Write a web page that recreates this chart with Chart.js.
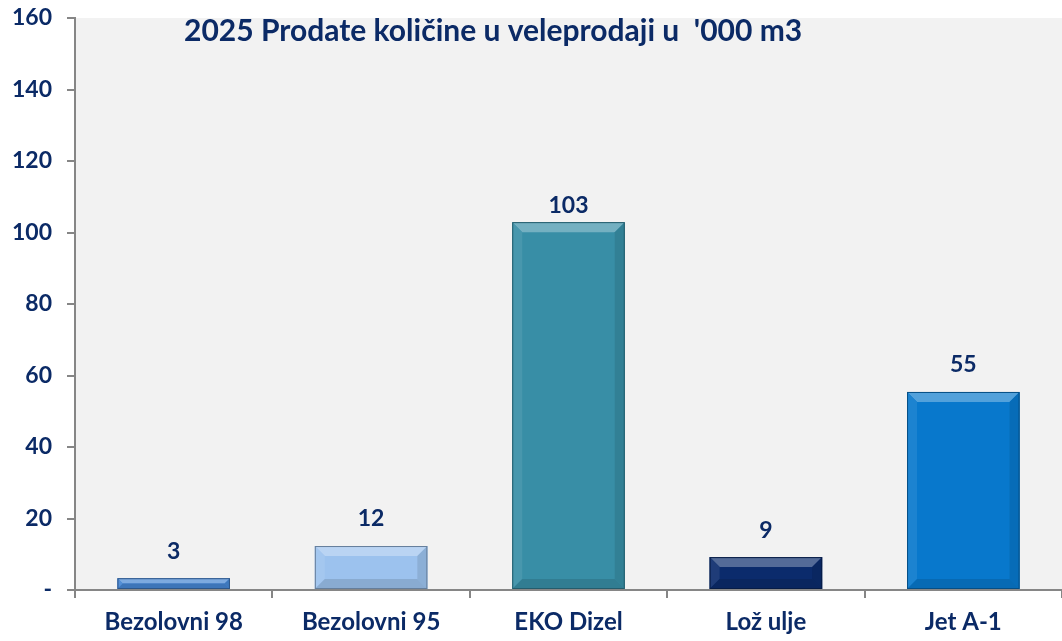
<!DOCTYPE html>
<html><head><meta charset="utf-8">
<script src="https://cdn.jsdelivr.net/npm/chart.js@4/dist/chart.umd.min.js"></script>
<style>html,body{margin:0;padding:0;background:#fff}#wrap{width:1062px;height:641px}</style>
</head><body><div id="wrap"><canvas id="c"></canvas></div>
<script>
const title = "2025 Prodate količine u veleprodaji u  '000 m3";
const categories = ["Bezolovni 98", "Bezolovni 95", "EKO Dizel", "Lož ulje", "Jet A-1"];
const values = [3.3, 12.3, 102.9, 9.2, 55.4];
const barColors = ["#4585d2", "#9cc2ee", "#388ea6", "#0b2b6c", "#0878cc"];
const yTicks = [0, 20, 40, 60, 80, 100, 120, 140, 160];

const navy = "#0b2a66";
const FONT = "Lato, 'Open Sans', sans-serif";

function shade(hex, amt) {
  const n = parseInt(hex.slice(1), 16);
  let r = n >> 16, g = (n >> 8) & 255, b = n & 255;
  const f = c => amt >= 0 ? Math.round(c + (255 - c) * amt) : Math.round(c * (1 + amt));
  return `rgb(${f(r)},${f(g)},${f(b)})`;
}

const bgPlugin = {
  id: 'bg',
  beforeDraw(chart) {
    const {ctx, chartArea: a} = chart;
    ctx.save(); ctx.fillStyle = '#f2f2f2';
    ctx.fillRect(a.left, a.top, a.right - a.left, a.bottom - a.top);
    ctx.restore();
  }
};

const labelGap = [27, 27, 17, 27, 27];

const bevelPlugin = {
  id: 'bevel',
  afterDatasetsDraw(chart) {
    const ctx = chart.ctx;
    const meta = chart.getDatasetMeta(0);
    meta.data.forEach((el, i) => {
      const p = el.getProps(['x', 'y', 'base', 'width'], true);
      const l = p.x - p.width / 2, r = p.x + p.width / 2, t = p.y, b = p.base;
      const h = b - t;
      const d = Math.min(10, h / 2);
      const c = barColors[i];
      ctx.save();
      ctx.fillStyle = shade(c, 0.3);
      ctx.beginPath(); ctx.moveTo(l, t); ctx.lineTo(r, t); ctx.lineTo(r - d, t + d); ctx.lineTo(l + d, t + d); ctx.closePath(); ctx.fill();
      ctx.fillStyle = shade(c, 0.08);
      ctx.beginPath(); ctx.moveTo(l, t); ctx.lineTo(l + d, t + d); ctx.lineTo(l + d, b - d); ctx.lineTo(l, b); ctx.closePath(); ctx.fill();
      ctx.fillStyle = shade(c, -0.1);
      ctx.beginPath(); ctx.moveTo(r, t); ctx.lineTo(r - d, t + d); ctx.lineTo(r - d, b - d); ctx.lineTo(r, b); ctx.closePath(); ctx.fill();
      ctx.fillStyle = shade(c, -0.12);
      ctx.beginPath(); ctx.moveTo(l, b); ctx.lineTo(r, b); ctx.lineTo(r - d, b - d); ctx.lineTo(l + d, b - d); ctx.closePath(); ctx.fill();
      ctx.strokeStyle = shade(c, -0.35); ctx.lineWidth = 1;
      ctx.strokeRect(l + 0.5, t + 0.5, r - l - 1, b - t - 1);
      ctx.restore();
    });
  },
  afterDraw(chart) {
    const ctx = chart.ctx;
    const meta = chart.getDatasetMeta(0);
    ctx.save();
    ctx.fillStyle = navy;
    ctx.font = "bold 23px " + FONT;
    ctx.textAlign = 'center'; ctx.textBaseline = 'middle';
    meta.data.forEach((el, i) => {
      ctx.fillText(String(Math.round(values[i])), el.x, el.y - labelGap[i]);
    });
    ctx.font = "bold 30px " + FONT;
    ctx.textAlign = 'left';
    ctx.fillText(title, 184, 31);
    ctx.restore();
  }
};

new Chart(document.getElementById('c'), {
  type: 'bar',
  data: {
    labels: categories,
    datasets: [{
      data: values,
      backgroundColor: barColors,
      borderWidth: 0,
      barPercentage: 0.57,
      categoryPercentage: 1
    }]
  },
  options: {
    responsive: true,
    maintainAspectRatio: false,
    animation: false,
    layout: { padding: { top: 18, right: 0, left: 0, bottom: 0 } },
    plugins: { legend: { display: false }, tooltip: { enabled: false } },
    scales: {
      x: {
        grid: { display: true, offset: true, drawOnChartArea: false, tickLength: 8, color: '#868686', lineWidth: 2 },
        border: { display: true, color: '#868686', width: 2 },
        ticks: { color: navy, font: { family: FONT, size: 24, weight: 'bold' }, padding: 10 },
        afterFit(s) { s.height = 51; s.paddingLeft = 0; s.paddingRight = 0; }
      },
      y: {
        min: 0, max: 160,
        afterBuildTicks(s) { s.ticks = yTicks.map(v => ({ value: v })); },
        grid: { display: true, drawOnChartArea: false, tickLength: 8, color: '#868686', lineWidth: 2 },
        border: { display: true, color: '#868686', width: 2 },
        ticks: { color: navy, font: { family: FONT, size: 23, weight: 'bold' }, padding: 15,
          callback: v => v === 0 ? '-' : String(v) },
        afterFit(s) { s.width = 75; s.paddingTop = 0; s.paddingBottom = 0; }
      }
    }
  },
  plugins: [bgPlugin, bevelPlugin]
});
</script>
</body></html>
